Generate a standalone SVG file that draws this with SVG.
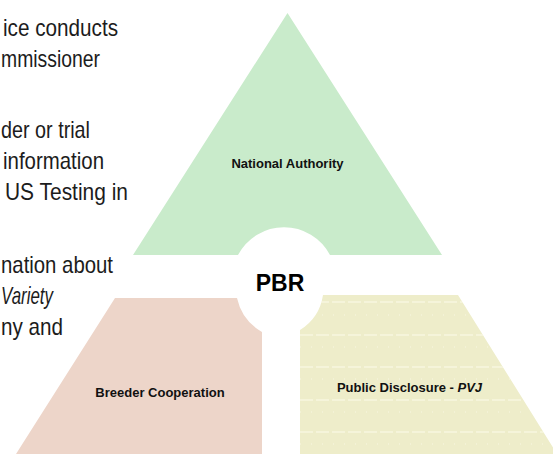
<svg xmlns="http://www.w3.org/2000/svg" width="553" height="454" viewBox="0 0 553 454">
<style>
.body{font-family:"Liberation Sans",Arial,sans-serif;font-size:24px;fill:#1c1c1c}
.lbl{font-family:"Liberation Sans",Arial,sans-serif;font-size:13px;font-weight:bold;fill:#111;text-anchor:middle}
.dash{stroke:#fbfbe9;stroke-width:1.2;stroke-dasharray:13 3;fill:none}
.dot{stroke:#f8f7e2;stroke-width:1;stroke-dasharray:1 10;fill:none}
</style>
<defs>
<clipPath id="yclip"><path d="M323,295 L458,295 L557,454 L300,454 L300,330 A50,50 0 0 0 323,295 Z"/></clipPath>
</defs>
<rect width="553" height="454" fill="#ffffff"/>
<g id="intro-text">
<text class="body" x="3" y="36" textLength="115" lengthAdjust="spacingAndGlyphs">ice conducts</text>
<text class="body" x="1" y="67" textLength="99" lengthAdjust="spacingAndGlyphs">mmissioner</text>
<text class="body" x="1" y="138" textLength="89" lengthAdjust="spacingAndGlyphs">der or trial</text>
<text class="body" x="3" y="169" textLength="101" lengthAdjust="spacingAndGlyphs">information</text>
<text class="body" x="5" y="200" textLength="123" lengthAdjust="spacingAndGlyphs">US Testing in</text>
<text class="body" x="1" y="273" textLength="112" lengthAdjust="spacingAndGlyphs">nation about</text>
<text class="body" x="1" y="304" font-style="italic" textLength="52" lengthAdjust="spacingAndGlyphs">Variety</text>
<text class="body" x="1" y="335" textLength="62" lengthAdjust="spacingAndGlyphs">ny and</text>
</g>
<g id="national-authority">
<path d="M287.5,13 L442,255 L330,255 A52,52 0 0 0 238,255 L133,255 Z" fill="#c9ebcb"/>
<text class="lbl" x="287.5" y="168">National Authority</text>
</g>
<g id="breeder-cooperation">
<path d="M115,298 L237,298 A52,52 0 0 0 262,332 L262,454 L16,454 Z" fill="#edd5c9"/>
<text class="lbl" x="160" y="397">Breeder Cooperation</text>
</g>
<g id="public-disclosure">
<path d="M323,295 L458,295 L557,454 L300,454 L300,330 A50,50 0 0 0 323,295 Z" fill="#eeedca"/>
<g clip-path="url(#yclip)">
<path class="dash" d="M300,302H560M300,335H560M300,367H560M300,400H560M300,432H560"/>
<path class="dot" d="M300,315H560M300,347H560M300,379H560M300,412H560M300,444H560"/>
</g>
<text class="lbl" x="409.5" y="392">Public Disclosure - <tspan font-style="italic">PVJ</tspan></text>
</g>
<g id="pbr">
<text x="280" y="291" font-family="'Liberation Sans',Arial,sans-serif" font-size="23" font-weight="bold" fill="#000" text-anchor="middle">PBR</text>
</g>
<g id="connectors"/>
</svg>
